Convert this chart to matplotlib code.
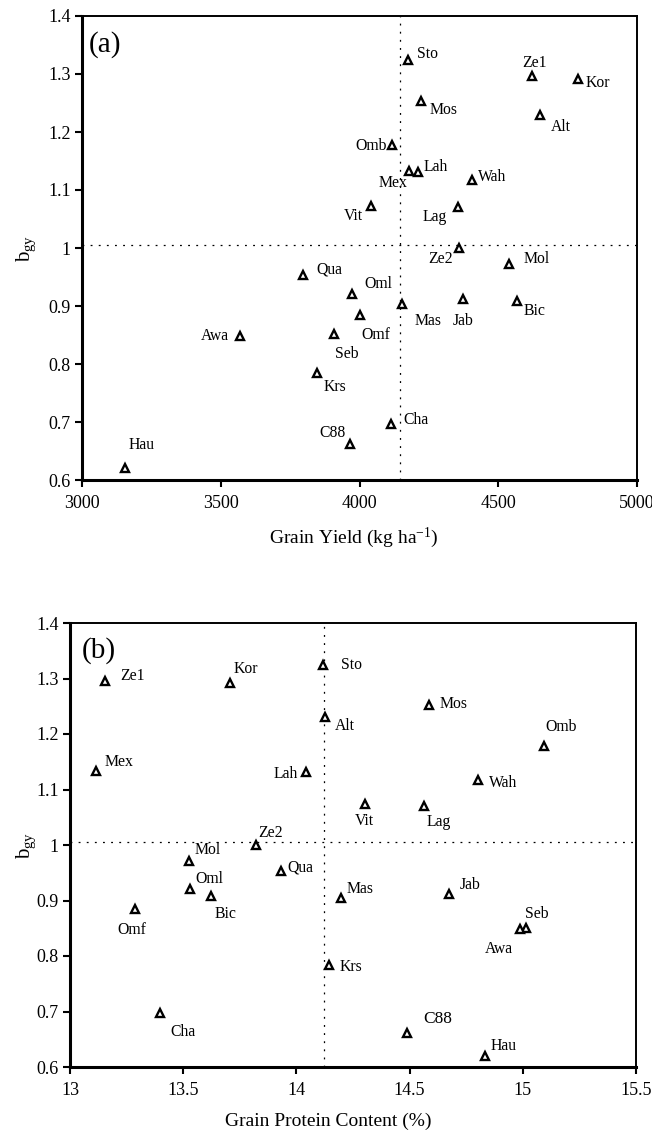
import matplotlib
matplotlib.use("Agg")
import matplotlib.pyplot as plt

plt.rcParams['font.family'] = ['Liberation Serif', 'DejaVu Serif']
plt.rcParams['mathtext.fontset'] = 'custom'
plt.rcParams['mathtext.rm'] = 'Liberation Serif'
plt.rcParams['mathtext.it'] = 'Liberation Serif:italic'

# ---------------- data ----------------
genotypes = ['Sto', 'Ze1', 'Kor', 'Mos', 'Alt', 'Omb', 'Mex', 'Lah', 'Wah', 'Vit',
             'Lag', 'Ze2', 'Mol', 'Qua', 'Oml', 'Mas', 'Jab', 'Bic', 'Omf', 'Seb',
             'Awa', 'Krs', 'Cha', 'C88', 'Hau']
bgy = [1.324, 1.296, 1.291, 1.253, 1.230, 1.178, 1.133, 1.131, 1.118, 1.073,
       1.071, 1.000, 0.972, 0.954, 0.920, 0.904, 0.912, 0.909, 0.885, 0.851,
       0.848, 0.784, 0.697, 0.662, 0.620]
grain_yield = [4176, 4621, 4789, 4220, 4651, 4116, 4177, 4211, 4404, 4042,
               4356, 4360, 4540, 3796, 3972, 4152, 4374, 4566, 4002, 3908,
               3568, 3848, 4114, 3967, 3154]
protein = [14.118, 13.156, 13.708, 14.585, 14.128, 15.094, 13.116, 14.044, 14.802, 14.302,
           14.563, 13.820, 13.527, 13.934, 13.528, 14.198, 14.674, 13.624, 13.286, 15.016,
           14.988, 14.143, 13.398, 14.487, 14.833]
mean_yield = 4147
mean_protein = 14.12
mean_bgy = 1.005

yield_ticks = [3000, 3500, 4000, 4500, 5000]
protein_ticks = [13, 13.5, 14, 14.5, 15, 15.5]
protein_ticklabels = ['13', '13.5', '14', '14.5', '15', '15.5']
bgy_ticks = [0.6, 0.7, 0.8, 0.9, 1.0, 1.1, 1.2, 1.3, 1.4]
bgy_ticklabels = ['0.6', '0.7', '0.8', '0.9', '1', '1.1', '1.2', '1.3', '1.4']

# label placement (pixel offsets dx, dy-down, alignment)
offs_a = {
    'Sto': (9, -8, 'left'), 'Ze1': (3, -15, 'center'), 'Kor': (7, 2, 'left'),
    'Mos': (9, 7, 'left'), 'Alt': (11, 10, 'left'), 'Omb': (-5, -1, 'right'),
    'Mex': (-1, 10, 'right'), 'Lah': (6, -7, 'left'), 'Wah': (6, -5, 'left'),
    'Vit': (-8, 8, 'right'), 'Lag': (-11, 8, 'right'), 'Ze2': (-7, 9, 'right'),
    'Mol': (14, -7, 'left'), 'Qua': (13, -7, 'left'), 'Oml': (13, -12, 'left'),
    'Mas': (13, 15, 'left'), 'Jab': (0, 20, 'center'), 'Bic': (7, 8, 'left'),
    'Omf': (1, 18, 'left'), 'Seb': (1, 18, 'left'), 'Awa': (-11, -2, 'right'),
    'Krs': (6, 12, 'left'), 'Cha': (12, -6, 'left'), 'C88': (-5, -13, 'right'),
    'Hau': (4, -25, 'left'),
}
offs_b = {
    'Sto': (18, -2, 'left'), 'Ze1': (15, -7, 'left'), 'Kor': (3, -16, 'left'),
    'Mos': (11, -3, 'left'), 'Alt': (9, 7, 'left'), 'Omb': (1, -21, 'left'),
    'Mex': (8, -11, 'left'), 'Lah': (-8, 0, 'right'), 'Wah': (11, 1, 'left'),
    'Vit': (0, 15, 'center'), 'Lag': (3, 14, 'left'), 'Ze2': (3, -14, 'left'),
    'Mol': (5, -13, 'left'), 'Qua': (6, -5, 'left'), 'Oml': (6, -12, 'left'),
    'Mas': (5, -11, 'left'), 'Jab': (11, -11, 'left'), 'Bic': (3, 16, 'left'),
    'Omf': (-3, 19, 'center'), 'Seb': (-1, -16, 'left'), 'Awa': (-7, 18, 'right'),
    'Krs': (11, 0, 'left'), 'Cha': (10, 17, 'left'), 'C88': (17, -16, 'left'),
    'Hau': (6, -12, 'left'),
}

fig = plt.figure(figsize=(6.52, 11.33), dpi=100)
W, H = 652, 1133
ax_a = fig.add_axes([82 / W, 1 - 480 / H, (637 - 82) / W, (480 - 16) / H])
ax_b = fig.add_axes([70 / W, 1 - 1067 / H, (636 - 70) / W, (1067 - 623) / H])

PX = 72 / 100.0


def style(ax, xlim, xticks, xticklabels, xlabel, tag, tagpos, xmean, xs, offs, big=()):
    ax.plot(xs, bgy, linestyle='none', marker='^', markersize=6.4,
            markerfacecolor='white', markeredgecolor='black', markeredgewidth=1.7,
            zorder=3, clip_on=False)
    ax.axvline(xmean, color='black', lw=0.9, linestyle=(0, (1.5, 5)), zorder=1)
    ax.axhline(mean_bgy, color='black', lw=0.9, linestyle=(0, (1.5, 5)), zorder=1)
    for name, x, y in zip(genotypes, xs, bgy):
        dx, dy, ha = offs[name]
        ax.annotate(name, (x, y), xytext=(dx * PX, -dy * PX),
                    textcoords='offset points', ha=ha, va='center_baseline',
                    fontsize=12.5 if name in big else 11.3, color='black')
    ax.set_xlim(*xlim)
    ax.set_ylim(0.6, 1.4)
    ax.set_xticks(xticks)
    ax.set_xticklabels(xticklabels)
    ax.set_yticks(bgy_ticks)
    ax.set_yticklabels(bgy_ticklabels)
    ax.tick_params(direction='out', length=5, width=1.5, labelsize=13, pad=3,
                   top=False, right=False)
    ax.tick_params(axis='x', pad=6)
    for s in ['left', 'bottom']:
        ax.spines[s].set_linewidth(2.2)
    for s in ['top', 'right']:
        ax.spines[s].set_linewidth(1.4)
    ax.set_xlabel(xlabel, fontsize=14)
    ax.set_ylabel(r'b$_{\mathrm{gy}}$', fontsize=15)
    ax.text(tagpos[0], tagpos[1], tag, transform=ax.transAxes, fontsize=21,
            ha='left', va='center')


style(ax_a, (3000, 5000), yield_ticks, [str(t) for t in yield_ticks],
      r'Grain Yield (kg ha$^{\mathregular{-1}}$)', '(a)', (0.012, 0.9375),
      mean_yield, grain_yield, offs_a)
style(ax_b, (13, 15.5), protein_ticks, protein_ticklabels,
      'Grain Protein Content (%)', '(b)', (0.021, 0.939),
      mean_protein, protein, offs_b, big=('C88',))

ax_a.xaxis.set_label_coords(0.49, -0.098)
ax_b.xaxis.set_label_coords(0.456, -0.103)
ax_a.yaxis.set_label_coords(-0.079, 0.5)
ax_b.yaxis.set_label_coords(-0.0565, 0.5)

fig.savefig('out.png', dpi=100)
